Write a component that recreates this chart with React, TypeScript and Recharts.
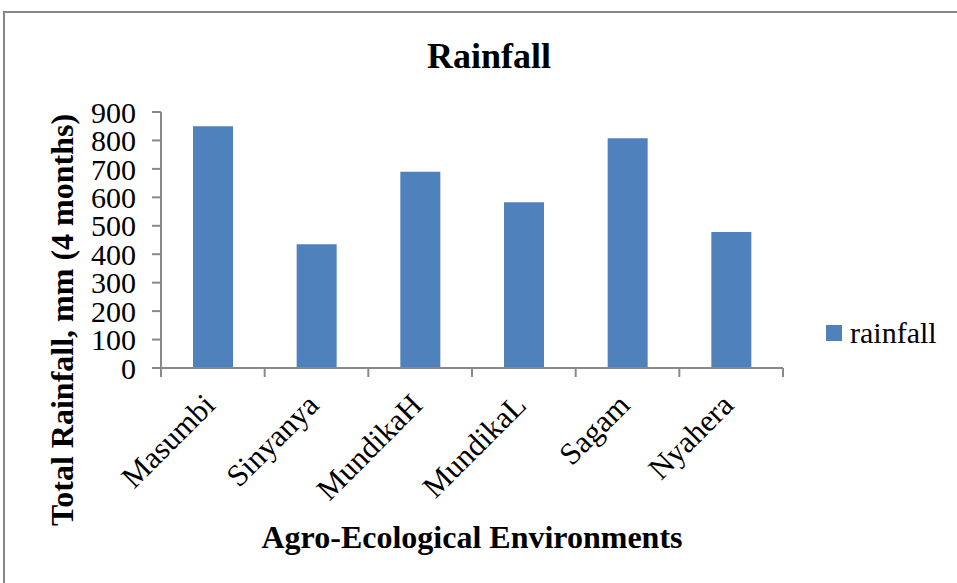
import React from 'react';
import { BarChart, Bar, XAxis, YAxis, Legend } from 'recharts';

// Agro-ecological environments and their total rainfall over 4 months (mm)
const categories = ['Masumbi', 'Sinyanya', 'MundikaH', 'MundikaL', 'Sagam', 'Nyahera'];
const rainfall = [850, 435, 690, 583, 808, 478];
const yTicks = [0, 100, 200, 300, 400, 500, 600, 700, 800, 900];
const edgeTicks = [0, 1, 2, 3, 4, 5, 6];

const data = categories.map((name, i) => ({ name, idx: i + 0.5, rainfall: rainfall[i] }));

const FONT = '"Liberation Serif", "Times New Roman", Times, serif';
const AXIS = '#898989';
const BAR = '#4F81BD';

function CategoryTick(props: any) {
  const { x, y, payload } = props;
  const ax = x + 4;
  const ay = y + 27;
  return (
    <text
      x={ax}
      y={ay}
      transform={`rotate(-45 ${ax} ${ay})`}
      textAnchor="end"
      fontFamily={FONT}
      fontSize={31}
      fill="#000"
    >
      {payload.value}
    </text>
  );
}

// tick marks only, no labels, on the boundary axis
function EmptyTick() {
  return <g />;
}

function renderLegend(props: any) {
  const { payload } = props;
  return (
    <div style={{ display: 'flex', alignItems: 'center', fontFamily: FONT, fontSize: 30, color: '#000', lineHeight: '34px' }}>
      {(payload || []).map((p: any) => (
        <div key={p.value} style={{ display: 'flex', alignItems: 'center' }}>
          <span style={{ display: 'inline-block', width: 16, height: 16, background: p.color, marginRight: 8 }} />
          <span>{p.value}</span>
        </div>
      ))}
    </div>
  );
}

export default function App() {
  return (
    <div style={{ position: 'absolute', left: 0, top: 0, width: 957, height: 583, background: '#fff' }}>
      <BarChart
        width={957}
        height={583}
        data={data}
        margin={{ top: 112, right: 174, bottom: 75, left: 101 }}
      >
        <rect x={4} y={12} width={1200} height={1200} fill="none" stroke="#878787" strokeWidth={2} />
        {/* category boundaries: axis line with tick marks between the groups */}
        <XAxis
          xAxisId={0}
          type="number"
          dataKey="idx"
          domain={[0, 6]}
          ticks={edgeTicks}
          interval={0}
          tick={EmptyTick}
          tickSize={9}
          tickLine={{ stroke: AXIS, strokeWidth: 2 }}
          axisLine={{ stroke: AXIS, strokeWidth: 2 }}
          height={1}
          allowDataOverflow
        />
        <XAxis
          xAxisId={1}
          dataKey="name"
          interval={0}
          tick={<CategoryTick />}
          tickLine={false}
          axisLine={false}
          tickSize={9}
          height={139}
        />
        <YAxis
          domain={[0, 900]}
          ticks={yTicks}
          interval={0}
          width={60}
          tickSize={9}
          tickMargin={16}
          tickLine={{ stroke: AXIS, strokeWidth: 2 }}
          axisLine={{ stroke: AXIS, strokeWidth: 2 }}
          tick={{ fontFamily: FONT, fontSize: 30, fill: '#000' }}
        />
        <Legend
          content={renderLegend}
          layout="vertical"
          align="center"
          verticalAlign="middle"
          wrapperStyle={{ left: 826, top: 316, width: 'auto' }}
        />
        <Bar xAxisId={1} dataKey="rainfall" name="rainfall" fill={BAR} barSize={40} isAnimationActive={false} />
        <text x={489} y={68} textAnchor="middle" fontFamily={FONT} fontSize={36} fontWeight="bold" fill="#000">
          Rainfall
        </text>
        <text
          x={73}
          y={320}
          transform="rotate(-90 73 320)"
          textAnchor="middle"
          fontFamily={FONT}
          fontSize={32}
          fontWeight="bold"
          fill="#000"
        >
          Total Rainfall, mm (4 months)
        </text>
        <text x={472} y={548} textAnchor="middle" fontFamily={FONT} fontSize={32} fontWeight="bold" fill="#000">
          Agro-Ecological Environments
        </text>
      </BarChart>
    </div>
  );
}
